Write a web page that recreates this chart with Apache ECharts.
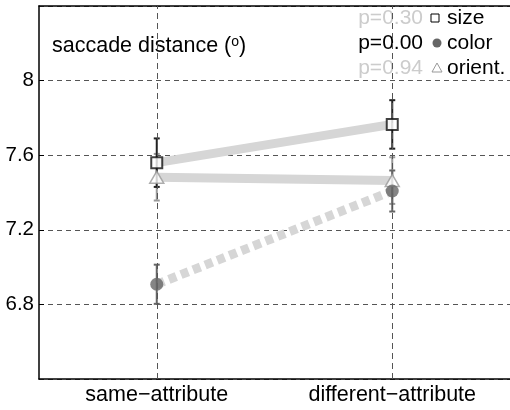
<!DOCTYPE html>
<html>
<head>
<meta charset="utf-8">
<script src="https://cdn.jsdelivr.net/npm/echarts@6/dist/echarts.min.js"></script>
<style>html,body{margin:0;padding:0;background:#fff;}</style>
</head>
<body>
<div id="main" style="width:510px;height:410px;"></div>
<script>
var categories = ['same\u2212attribute', 'different\u2212attribute'];

var sizeMean = [7.56, 7.765];
var sizeErr = [0.13, 0.13];
var colorMean = [6.908, 7.408];
var colorErr = [0.105, 0.11];
var orientMean = [7.482, 7.464];
var orientErr = [0.125, 0.125];

var groupNames = ['size', 'color', 'orient.'];
var pValues = ['p=0.30', 'p=0.00', 'p=0.94'];
var pColors = ['#cccccc', '#000000', '#cccccc'];

var FONT = 'Liberation Sans, Arial, Helvetica, sans-serif';

var chart = echarts.init(document.getElementById('main'), null, {renderer: 'canvas'});

// error bars: vertical line with small caps
function errSeries(means, errs, color) {
    var data = means.map(function (m, i) { return [i, m - errs[i], m + errs[i]]; });
    return {
        type: 'custom',
        z: 3,
        silent: true,
        data: data,
        renderItem: function (params, api) {
            var lo = api.coord([api.value(0), api.value(1)]);
            var hi = api.coord([api.value(0), api.value(2)]);
            var cw = 3;
            var st = {stroke: color, lineWidth: 2};
            return {
                type: 'group',
                children: [
                    {type: 'line', shape: {x1: lo[0], y1: lo[1], x2: hi[0], y2: hi[1]}, style: st},
                    {type: 'line', shape: {x1: lo[0] - cw, y1: lo[1], x2: lo[0] + cw, y2: lo[1]}, style: st},
                    {type: 'line', shape: {x1: hi[0] - cw, y1: hi[1], x2: hi[0] + cw, y2: hi[1]}, style: st}
                ]
            };
        }
    };
}

function trendLine(means, dash) {
    return {
        type: 'line',
        z: 1,
        silent: true,
        symbol: 'none',
        data: means,
        lineStyle: {color: '#d6d6d6', width: 9, type: dash || 'solid', cap: 'butt'}
    };
}

var legendGraphics = [];
var rowY = [18, 43, 68];
for (var i = 0; i < 3; i++) {
    legendGraphics.push({
        type: 'text', x: 423, y: rowY[i],
        style: {text: pValues[i], fill: pColors[i], font: '21px ' + FONT, align: 'right', verticalAlign: 'middle'}
    });
    legendGraphics.push({
        type: 'text', x: 447, y: rowY[i],
        style: {text: groupNames[i], fill: '#000', font: '21px ' + FONT, align: 'left', verticalAlign: 'middle'}
    });
}
legendGraphics.push({type: 'rect', shape: {x: 431, y: 14, width: 8, height: 8}, style: {fill: '#fff', stroke: '#000', lineWidth: 1}});
legendGraphics.push({type: 'circle', shape: {cx: 437, cy: 43, r: 4.5}, style: {fill: '#666'}});
legendGraphics.push({type: 'polygon', shape: {points: [[437, 63], [432, 72], [442, 72]]}, style: {fill: '#fff', stroke: '#999', lineWidth: 1}});

var option = {
    animation: false,
    backgroundColor: '#fff',
    textStyle: {fontFamily: FONT},
    grid: {left: 39, top: 6, width: 476, height: 373},
    xAxis: [{
        type: 'category',
        data: categories,
        boundaryGap: true,
        axisLine: {lineStyle: {color: '#000', width: 1.5}},
        axisTick: {show: false},
        axisLabel: {color: '#000', fontSize: 21.5, margin: 5, fontFamily: FONT},
        splitLine: {show: false}
    }, {
        type: 'category',
        position: 'top',
        data: categories,
        boundaryGap: true,
        axisLine: {lineStyle: {color: '#000', width: 1.5}},
        axisTick: {show: false},
        axisLabel: {show: false},
        splitLine: {show: false}
    }],
    yAxis: {
        type: 'value',
        min: 6.4,
        max: 8.4,
        interval: 0.4,
        axisLine: {show: true, lineStyle: {color: '#000', width: 1.5}},
        axisTick: {show: true, inside: true, length: 5, lineStyle: {color: '#000'}},
        axisLabel: {color: '#000', fontSize: 20.5, margin: 5, fontFamily: FONT, showMinLabel: false, showMaxLabel: false},
        splitLine: {show: true, lineStyle: {color: '#555', type: [5, 4], width: 1}}
    },
    graphic: [{
        type: 'text', x: 52, y: 46,
        style: {
            text: 'saccade distance ({sup|o})',
            font: '21.5px ' + FONT,
            fill: '#000',
            verticalAlign: 'middle',
            rich: {sup: {fontSize: 14, fontFamily: FONT, verticalAlign: 'top', lineHeight: 13}}
        }
    }].concat(legendGraphics),
    series: [
        Object.assign(trendLine(sizeMean), {
            markLine: {
                silent: true,
                symbol: ['none', 'none'],
                label: {show: false},
                lineStyle: {color: '#555', type: [6, 4], width: 1},
                data: [{xAxis: 0}, {xAxis: 1}]
            }
        }),
        trendLine(orientMean),
        trendLine(colorMean, [8, 5]),
        errSeries(orientMean, orientErr, '#999'),
        errSeries(colorMean, colorErr, '#666'),
        errSeries(sizeMean, sizeErr, '#222'),
        {
            type: 'scatter', z: 5, silent: true, data: orientMean,
            symbol: 'triangle', symbolSize: [14, 12],
            itemStyle: {color: '#fff', borderColor: '#999', borderWidth: 1.5}
        },
        {
            type: 'scatter', z: 5, silent: true, data: colorMean,
            symbol: 'circle', symbolSize: 13,
            itemStyle: {color: '#666'}
        },
        {
            type: 'scatter', z: 6, silent: true, data: sizeMean,
            symbol: 'rect', symbolSize: 11,
            itemStyle: {color: '#fff', borderColor: '#111', borderWidth: 2}
        }
    ]
};
chart.setOption(option);
</script>
</body>
</html>
